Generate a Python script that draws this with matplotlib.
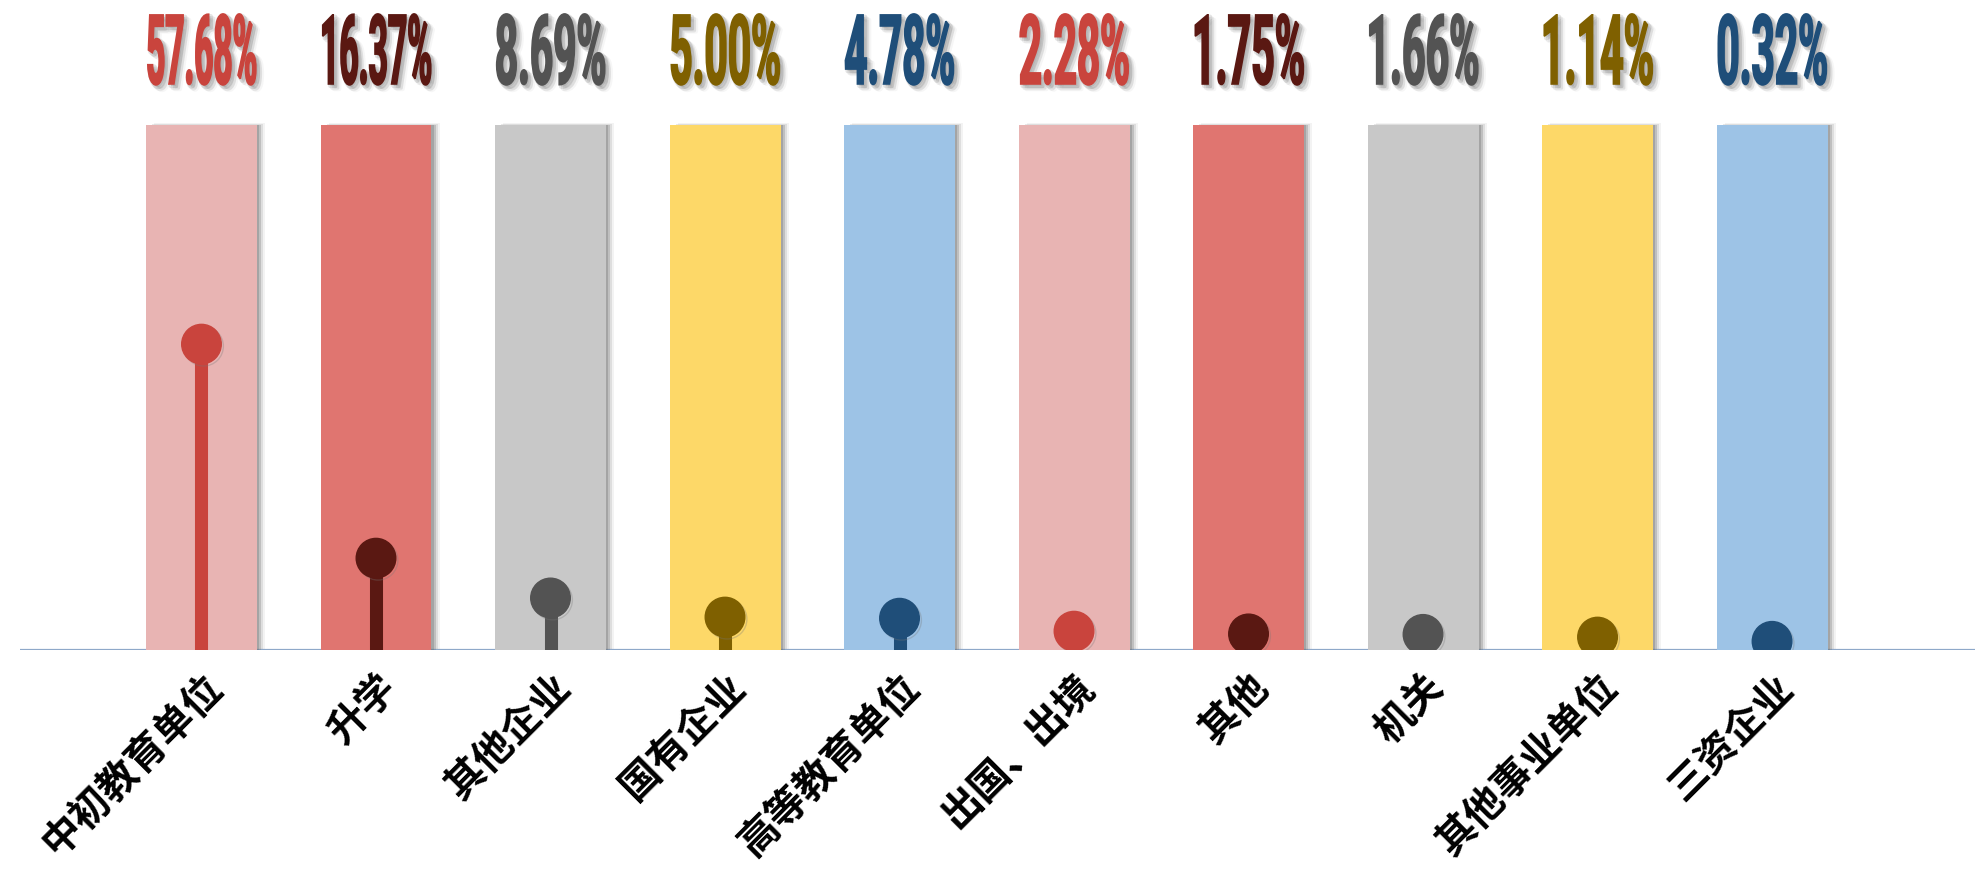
import matplotlib
matplotlib.use('Agg')
import matplotlib.pyplot as plt
import matplotlib.patheffects as pe
from matplotlib.transforms import Affine2D

# share of graduates by destination
categories = ['中初教育单位', '升学', '其他企业', '国有企业', '高等教育单位',
              '出国、出境', '其他', '机关', '其他事业单位', '三资企业']
percent = [57.68, 16.37, 8.69, 5.00, 4.78, 2.28, 1.75, 1.66, 1.14, 0.32]
full = 100

bar_colors = ['#E8B4B3', '#E07570', '#C8C8C8', '#FDD868', '#9DC3E6'] * 2
dot_colors = ['#C9443D', '#5A1812', '#535353', '#7F6000', '#1F4E79'] * 2

plt.rcParams['font.family'] = ['Noto Sans CJK SC', 'DejaVu Sans']


class TallText(pe.AbstractPathEffect):
    """Draws a text path squeezed into a fixed box (condensed poster look) with a soft shadow."""

    def __init__(self, w, h, grow=1.2, shadows=((2, -2, 0.16), (4, -4, 0.10), (6, -5, 0.05))):
        super().__init__()
        self.w, self.h, self.grow, self.shadows = w, h, grow, shadows

    def draw_path(self, renderer, gc, tpath, affine, rgbFace=None):
        ext = tpath.get_extents(affine)
        cx, cy = (ext.x0 + ext.x1) / 2, (ext.y0 + ext.y1) / 2
        aff = affine + Affine2D().translate(-cx, -cy).scale(self.w / ext.width, self.h / ext.height).translate(cx, cy)
        for dx, dy, a in self.shadows:
            g = renderer.new_gc()
            g.copy_properties(gc)
            g.set_foreground((0.35, 0.35, 0.35))
            g.set_alpha(a)
            g.set_linewidth(self.grow + 2)
            g.set_joinstyle('round')
            renderer.draw_path(g, tpath, aff + Affine2D().translate(dx, dy), (0.35, 0.35, 0.35, a))
            g.restore()
        g = renderer.new_gc()
        g.copy_properties(gc)
        g.set_foreground(rgbFace)
        g.set_linewidth(self.grow)
        g.set_joinstyle('miter')
        renderer.draw_path(g, tpath, aff, rgbFace)
        g.restore()


fig = plt.figure(figsize=(19.75, 8.73), dpi=100)
ax = fig.add_axes([20 / 1975, 223 / 873, 1955 / 1975, 650 / 873])
ymin = -1.35
ax.set_xlim(-1.04, 10.163)
ax.set_ylim(ymin, 124.1)

x = list(range(len(categories)))

def shadow(dx, dy, a):
    return pe.SimplePatchShadow(offset=(dx, dy), shadow_rgbFace='#666666', alpha=a)

# background bars (full height)
bars = ax.bar(x, [full - ymin] * len(x), bottom=ymin, width=0.636,
              color=bar_colors, zorder=2)
for b in bars:
    b.set_path_effects([shadow(6, 1, 0.08), shadow(4.5, 0.5, 0.15), shadow(3, 0, 0.25),
                        shadow(1.5, 0, 0.3), pe.Normal()])

# axis line
ax.axhline(ymin, color='#8EA8C9', lw=1.6, zorder=1,
           path_effects=[pe.SimpleLineShadow(offset=(0, -3), shadow_color='#999999', alpha=0.3), pe.Normal()])

# lollipops
for i, v in enumerate(percent):
    c = dot_colors[i]
    ax.vlines(i, ymin, v, colors=c, linewidth=9.4, zorder=3)
    ax.plot([i], [v], 'o', ms=28.5, color=c, mec=c, zorder=4,
            path_effects=[pe.SimpleLineShadow(offset=(1.5, -1.5), shadow_color='#777777', alpha=0.3), pe.Normal()])

# value labels on top
for i, v in enumerate(percent):
    ax.text(i, 114.2, f'{v:.2f}%', ha='center', va='center', color=dot_colors[i],
            fontsize=22, fontweight='bold', family=['Roboto', 'DejaVu Sans'],
            path_effects=[TallText(108, 71)])

ax.set_xticks(x, categories, rotation=45, ha='right', va='top',
              rotation_mode='anchor', fontsize=28.5, fontweight='bold')
ax.tick_params(axis='x', length=0, pad=12)
ax.set_yticks([])
for s in ax.spines.values():
    s.set_visible(False)

fig.savefig('out.png', dpi=100)
